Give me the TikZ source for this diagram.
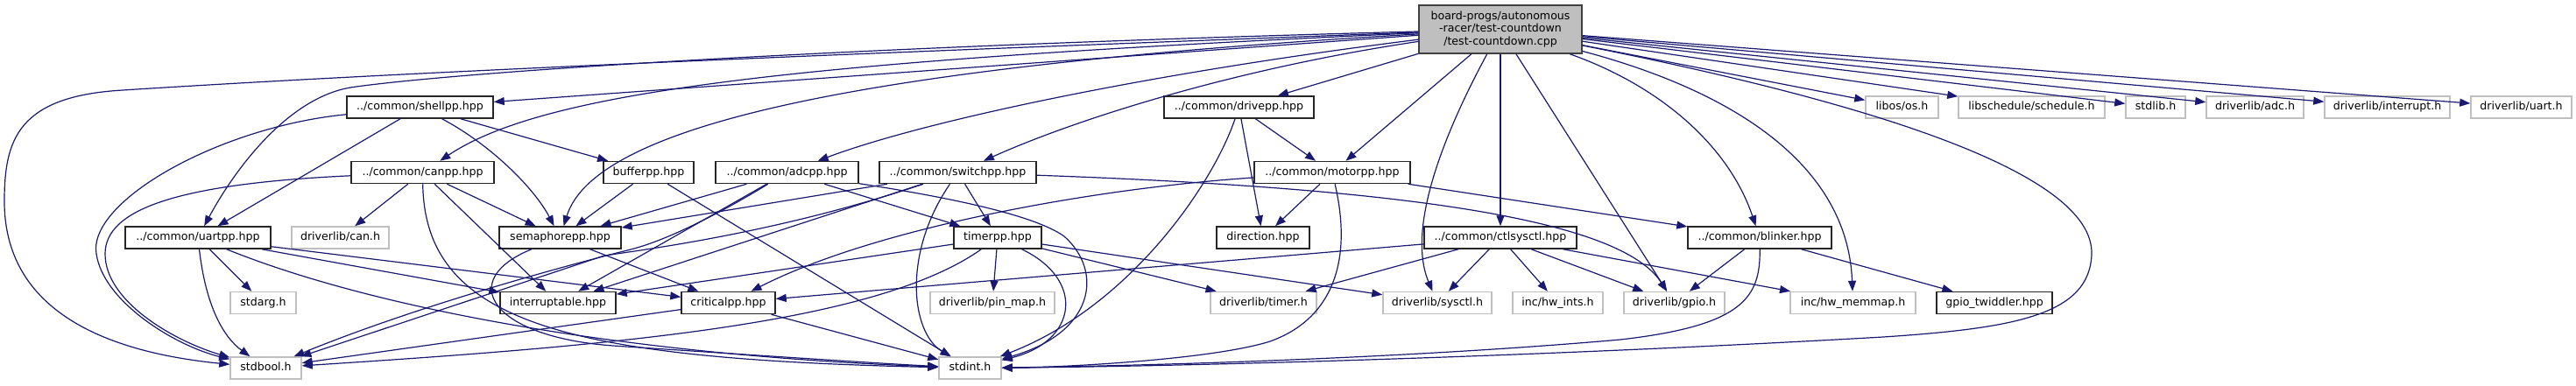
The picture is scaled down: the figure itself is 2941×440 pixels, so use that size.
\documentclass[tikz,border=0pt]{standalone}
\usepackage{fontspec}
\setmainfont{DejaVu Sans}
\usetikzlibrary{arrows.meta}
\definecolor{incBlue}{HTML}{191970}
\definecolor{incGrey}{HTML}{BFBFBF}
\begin{document}
\begin{tikzpicture}[x=1pt,y=-1pt,
    incBase/.style={rectangle,line width=1.5pt,fill=white,inner sep=0pt,font=\fontsize{12.6}{14.5}\selectfont},
    incBk/.style={incBase,draw=black!85,minimum height=25pt,text height=9.6pt,text depth=3pt},
    incExt/.style={incBk,draw=incGrey},
    incMain/.style={incBase,draw=black!75,fill=incGrey,minimum width=186pt,minimum height=55pt,align=center},
    incArr/.style={->,>={Triangle[length=12pt,width=9pt]},draw=incBlue,line width=1.2pt},
]
\useasboundingbox (0,0) rectangle (2941,440);
\node[incMain] (tc) at (1713,33.5) {board-progs/autonomous\\-racer/test-countdown\hspace*{20pt}\\/test-countdown.cpp};
\node[incBk,minimum width=167pt] (shellpp) at (479.5,122.5) {../common/shellpp.hpp};
\node[incBk,minimum width=171pt] (drivepp) at (1414.5,122.5) {../common/drivepp.hpp};
\node[incExt,minimum width=83pt] (libos) at (2171.5,122.5) {libos/os.h};
\node[incExt,minimum width=167pt] (libsched) at (2319.5,122.5) {libschedule/schedule.h};
\node[incExt,minimum width=68pt] (stdlib) at (2461,122.5) {stdlib.h};
\node[incExt,minimum width=111pt] (adch) at (2574.5,122.5) {driverlib/adc.h};
\node[incExt,minimum width=143pt] (interrupth) at (2725.5,122.5) {driverlib/interrupt.h};
\node[incExt,minimum width=115pt] (uarth) at (2878.5,122.5) {driverlib/uart.h};
\node[incBk,minimum width=163pt] (canpp) at (482.5,197) {../common/canpp.hpp};
\node[incBk,minimum width=103pt] (bufferpp) at (740.5,197) {bufferpp.hpp};
\node[incBk,minimum width=163pt] (adcpp) at (898.5,197) {../common/adcpp.hpp};
\node[incBk,minimum width=179pt] (switchpp) at (1093.5,197) {../common/switchpp.hpp};
\node[incBk,minimum width=178pt] (motorpp) at (1521,197) {../common/motorpp.hpp};
\node[incBk,minimum width=166pt] (uartpp) at (226,271.5) {../common/uartpp.hpp};
\node[incExt,minimum width=111pt] (canh) at (388.5,271.5) {driverlib/can.h};
\node[incBk,minimum width=139pt] (semaphorepp) at (639.5,271.5) {semaphorepp.hpp};
\node[incBk,minimum width=100pt] (timerpp) at (1139,271.5) {timerpp.hpp};
\node[incBk,minimum width=106pt] (direction) at (1442,271.5) {direction.hpp};
\node[incBk,minimum width=174pt] (ctlsysctl) at (1713,271.5) {../common/ctlsysctl.hpp};
\node[incBk,minimum width=164pt] (blinker) at (2009,271.5) {../common/blinker.hpp};
\node[incExt,minimum width=75pt] (stdarg) at (300.5,346) {stdarg.h};
\node[incBk,minimum width=132pt] (interruptable) at (637,346) {interruptable.hpp};
\node[incBk,minimum width=107pt] (criticalpp) at (831.5,346) {criticalpp.hpp};
\node[incExt,minimum width=142pt] (pinmap) at (1133,346) {driverlib/pin\_map.h};
\node[incExt,minimum width=121pt] (timerh) at (1442.5,346) {driverlib/timer.h};
\node[incExt,minimum width=124pt] (sysctlh) at (1641,346) {driverlib/sysctl.h};
\node[incExt,minimum width=103pt] (hwints) at (1778.5,346) {inc/hw\_ints.h};
\node[incExt,minimum width=115pt] (gpioh) at (1911.5,346) {driverlib/gpio.h};
\node[incExt,minimum width=143pt] (hwmemmap) at (2115.5,346) {inc/hw\_memmap.h};
\node[incBk,minimum width=132pt] (gpiotw) at (2277,346) {gpio\_twiddler.hpp};
\node[incExt,minimum width=81pt] (stdbool) at (303.5,420.5) {stdbool.h};
\node[incExt,minimum width=71pt] (stdint) at (1107.5,420.5) {stdint.h};
% includes of the test file
\draw[incArr] (tc) -- (shellpp);
\draw[incArr] (tc) .. controls (900,70) and (620,105) .. (canpp);
\draw[incArr] (tc) .. controls (900,55) and (500,85) .. (400,100) .. controls (330,112) and (270,190) .. (uartpp);
\draw[incArr] (tc) .. controls (1000,60) and (500,80) .. (140,103) .. controls (20,110) and (5,160) .. (5,230) .. controls (5,370) and (150,405) .. (stdbool);
\draw[incArr] (tc) .. controls (1000,75) and (680,140) .. (semaphorepp);
\draw[incArr] (tc) .. controls (1300,85) and (1050,140) .. (adcpp);
\draw[incArr] (tc) .. controls (1400,80) and (1220,140) .. (switchpp);
\draw[incArr] (tc) -- (drivepp);
\draw[incArr] (tc) -- (motorpp);
\draw[incArr] (tc) -- (ctlsysctl);
\draw[incArr] (tc) .. controls (1650,150) and (1605,260) .. (sysctlh);
\draw[incArr] (tc) -- (gpioh);
\draw[incArr] (tc) .. controls (1900,100) and (1975,170) .. (blinker);
\draw[incArr] (tc) .. controls (2000,110) and (2110,200) .. (hwmemmap);
\draw[incArr] (tc) .. controls (2150,120) and (2390,200) .. (2388,290) .. controls (2386,360) and (2300,375) .. (2150,385) .. controls (1800,405) and (1400,418) .. (stdint);
\draw[incArr] (tc) -- (libos);
\draw[incArr] (tc) -- (libsched);
\draw[incArr] (tc) -- (stdlib);
\draw[incArr] (tc) -- (adch);
\draw[incArr] (tc) -- (interrupth);
\draw[incArr] (tc) -- (uarth);
% headers
\draw[incArr] (shellpp) -- (uartpp);
\draw[incArr] (shellpp) .. controls (560,165) and (610,215) .. (semaphorepp);
\draw[incArr] (shellpp) -- (bufferpp);
\draw[incArr] (shellpp) .. controls (250,145) and (100,230) .. (110,290) .. controls (118,345) and (200,395) .. (stdbool);
\draw[incArr] (canpp) -- (canh);
\draw[incArr] (canpp) -- (semaphorepp);
\draw[incArr] (canpp) -- (interruptable);
\draw[incArr] (canpp) .. controls (485,370) and (650,410) .. (stdint);
\draw[incArr] (canpp) .. controls (200,210) and (120,240) .. (120,290) .. controls (120,345) and (200,390) .. (stdbool);
\draw[incArr] (uartpp) .. controls (235,350) and (255,385) .. (stdbool);
\draw[incArr] (uartpp) -- (stdarg);
\draw[incArr] (uartpp) .. controls (420,350) and (700,405) .. (stdint);
\draw[incArr] (uartpp) -- (interruptable);
\draw[incArr] (uartpp) -- (criticalpp);
\draw[incArr] (bufferpp) -- (semaphorepp);
\draw[incArr] (bufferpp) -- (stdint);
\draw[incArr] (semaphorepp) -- (criticalpp);
\draw[incArr] (semaphorepp) .. controls (520,320) and (560,385) .. (700,395) .. controls (850,405) and (1000,415) .. (stdint);
\draw[incArr] (adcpp) -- (semaphorepp);
\draw[incArr] (adcpp) -- (interruptable);
\draw[incArr] (adcpp) .. controls (820,245) and (760,275) .. (720,285) .. controls (600,315) and (450,360) .. (stdbool);
\draw[incArr] (adcpp) -- (timerpp);
\draw[incArr] (adcpp) .. controls (1080,225) and (1180,245) .. (1215,270) .. controls (1260,310) and (1250,380) .. (stdint);
\draw[incArr] (switchpp) -- (semaphorepp);
\draw[incArr] (switchpp) -- (interruptable);
\draw[incArr] (switchpp) .. controls (900,262) and (760,282) .. (690,292) -- (stdbool);
\draw[incArr] (switchpp) .. controls (1030,290) and (1040,380) .. (stdint);
\draw[incArr] (switchpp) -- (timerpp);
\draw[incArr] (switchpp) .. controls (1600,215) and (1850,250) .. (gpioh);
\draw[incArr] (timerpp) -- (interruptable);
\draw[incArr] (timerpp) .. controls (1000,370) and (700,395) .. (stdbool);
\draw[incArr] (timerpp) -- (pinmap);
\draw[incArr] (timerpp) .. controls (1240,320) and (1230,390) .. (stdint);
\draw[incArr] (timerpp) -- (timerh);
\draw[incArr] (timerpp) -- (sysctlh);
\draw[incArr] (criticalpp) -- (stdbool);
\draw[incArr] (criticalpp) -- (stdint);
\draw[incArr] (drivepp) -- (motorpp);
\draw[incArr] (drivepp) -- (direction);
\draw[incArr] (drivepp) .. controls (1385,210) and (1290,350) .. (stdint);
\draw[incArr] (motorpp) -- (direction);
\draw[incArr] (motorpp) .. controls (1545,300) and (1520,365) .. (1450,390) .. controls (1380,412) and (1200,420) .. (stdint);
\draw[incArr] (motorpp) .. controls (1250,215) and (1000,260) .. (criticalpp);
\draw[incArr] (motorpp) -- (blinker);
\draw[incArr] (ctlsysctl) -- (criticalpp);
\draw[incArr] (ctlsysctl) -- (timerh);
\draw[incArr] (ctlsysctl) -- (sysctlh);
\draw[incArr] (ctlsysctl) -- (hwints);
\draw[incArr] (ctlsysctl) -- (gpioh);
\draw[incArr] (ctlsysctl) -- (hwmemmap);
\draw[incArr] (blinker) -- (gpioh);
\draw[incArr] (blinker) -- (gpiotw);
\draw[incArr] (blinker) .. controls (2010,340) and (1990,372) .. (1850,388) .. controls (1600,410) and (1300,418) .. (stdint);
\end{tikzpicture}
\end{document}
